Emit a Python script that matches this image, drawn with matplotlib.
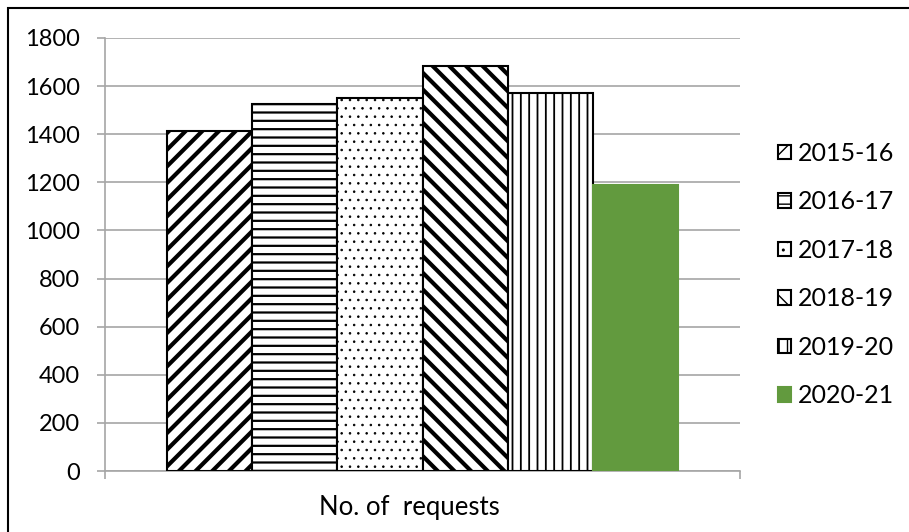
import matplotlib.pyplot as plt
from matplotlib.patches import Rectangle

# === DATA ===
years = ["2015-16", "2016-17", "2017-18", "2018-19", "2019-20", "2020-21"]
requests = [1415, 1525, 1550, 1685, 1570, 1190]
category = "No. of  requests"
y_ticks = [0, 200, 400, 600, 800, 1000, 1200, 1400, 1600, 1800]

# === STYLE ===
hatches = ["//", "--", "..", "\\\\", "||", ""]
hatch_widths = [3.0, 1.6, 0.6, 3.0, 1.3, 1.0]
faces = ["white", "white", "white", "white", "white", "#629a3e"]
edges = ["black", "black", "black", "black", "black", "#629a3e"]
grid_grey = "#a6a6a6"

plt.rcParams['font.family'] = ['Lato', 'DejaVu Sans']
plt.rcParams['font.size'] = 17

fig = plt.figure(figsize=(9.09, 5.32), dpi=100)
ax = fig.add_axes([105 / 909, 61 / 532, 635 / 909, 433 / 532])

bar_w = 0.134
for i, (yr, val) in enumerate(zip(years, requests)):
    with plt.rc_context({'hatch.linewidth': hatch_widths[i]}):
        ax.bar((i - 2.5) * bar_w, val, width=bar_w, color=faces[i],
               edgecolor=edges[i], hatch=hatches[i] or None,
               linewidth=1.5, label=yr, zorder=3)

ax.set_xlim(-0.5, 0.5)
ax.set_ylim(0, 1800)
ax.set_yticks(y_ticks)

# category boundaries as ticks, category name centred underneath
ax.set_xticks([-0.5, 0.5])
ax.set_xticklabels([])
ax.set_xticks([-0.02], [category], minor=True)
ax.tick_params(axis='x', which='major', length=6, color=grid_grey, width=1.2)
ax.tick_params(axis='x', which='minor', length=0, pad=17, labelsize=18.5)
ax.tick_params(axis='y', length=6, color=grid_grey, width=1.2, pad=12)

ax.grid(axis='y', color=grid_grey, linewidth=1.2, zorder=0)
for side in ['top', 'right']:
    ax.spines[side].set_visible(False)
for side in ['left', 'bottom']:
    ax.spines[side].set_color(grid_grey)
    ax.spines[side].set_linewidth(1.2)

ax.legend(loc='center left', bbox_to_anchor=(778 / 909, 0.484),
          bbox_transform=fig.transFigure, frameon=False, fontsize=18,
          handlelength=0.5, handleheight=0.5, handletextpad=0.3,
          labelspacing=1.02, borderpad=0, borderaxespad=0)

# outer chart border (top and left edges)
fig.add_artist(Rectangle((8 / 909, -0.5), 2, 1.5 - 8 / 532,
                         transform=fig.transFigure, fill=False,
                         edgecolor='black', linewidth=1.5))

fig.savefig("out.png", dpi=100)
